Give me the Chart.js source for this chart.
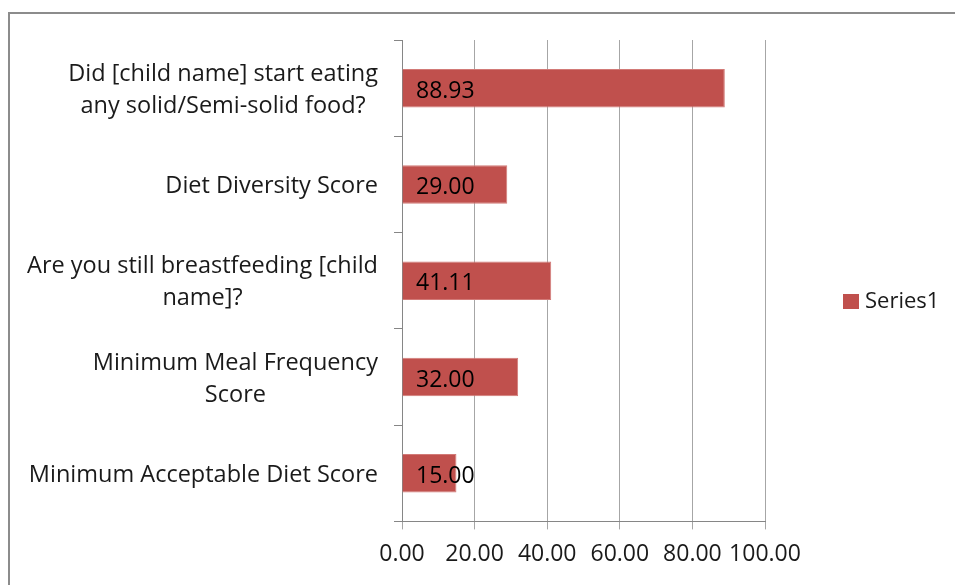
<!DOCTYPE html>
<html>
<head>
<meta charset="utf-8">
<script src="https://cdn.jsdelivr.net/npm/chart.js@4"></script>
<style>
  html, body { margin: 0; padding: 0; background: #fff; overflow: hidden; }
  #frame { position: absolute; left: 8px; top: 12px; width: 1100px; height: 700px; border: 2px solid #8c8c8c; }
  #wrap { position: absolute; left: 10px; top: 14px; width: 945px; height: 571px; }
</style>
</head>
<body>
<div id="frame"></div>
<div id="wrap"><canvas id="chart1"></canvas></div>
<script>
// categories (wrapped like the original)
var categories = [
  ['Did [child name] start eating', 'any solid/Semi-solid food?'],
  ['Diet Diversity Score'],
  ['Are you still breastfeeding [child', 'name]?'],
  ['Minimum Meal Frequency', 'Score'],
  ['Minimum Acceptable Diet Score']
];
var series1 = [88.93, 29.00, 41.11, 32.00, 15.00];
var xTicks = [0, 20, 40, 60, 80, 100];

var FONT = "'Open Sans', sans-serif";

// value labels at inside base of each bar
var insideBase = {
  id: 'insideBase',
  afterDatasetsDraw: function (chart) {
    var ctx = chart.ctx;
    var x0 = chart.scales.x.getPixelForValue(0);
    ctx.save();
    ctx.font = '23px ' + FONT;
    ctx.fillStyle = '#000';
    ctx.textAlign = 'left';
    ctx.textBaseline = 'middle';
    chart.getDatasetMeta(0).data.forEach(function (bar, i) {
      ctx.fillText(series1[i].toFixed(2), x0 + 14, bar.y + 3);
    });
    ctx.restore();
  }
};

// category labels: block right aligned, lines centred on each other (like Excel)
var catLabels = {
  id: 'catLabels',
  afterDraw: function (chart) {
    var ctx = chart.ctx;
    var y = chart.scales.y;
    var right = y.right - 8 - 16;
    var lh = 32;
    ctx.save();
    ctx.font = '23.5px ' + FONT;
    ctx.fillStyle = '#1a1a1a';
    ctx.textAlign = 'center';
    ctx.textBaseline = 'middle';
    categories.forEach(function (lines, i) {
      var w = 0;
      lines.forEach(function (t) { w = Math.max(w, ctx.measureText(t).width); });
      var cx = right - w / 2;
      var cy = y.getPixelForValue(i) + 2 - (lines.length - 1) * lh / 2;
      lines.forEach(function (t, k) { ctx.fillText(t, cx, cy + k * lh); });
    });
    ctx.restore();
  }
};

// legend on the right, drawn by hand so the layout stays put
var sideLegend = {
  id: 'sideLegend',
  afterDraw: function (chart) {
    var ctx = chart.ctx;
    var ds = chart.data.datasets[0];
    var x = chart.chartArea.right + 78;
    var y = 288;
    ctx.save();
    ctx.fillStyle = ds.backgroundColor;
    ctx.fillRect(x, y - 8, 16, 15);
    ctx.font = '22px ' + FONT;
    ctx.fillStyle = '#1a1a1a';
    ctx.textAlign = 'left';
    ctx.textBaseline = 'middle';
    ctx.fillText(ds.label, x + 22, y);
    ctx.restore();
  }
};

const data = {
  labels: categories,
  datasets: [{
    label: 'Series1',
    data: series1,
    backgroundColor: '#C0504D',
    borderColor: '#d27a77',
    borderWidth: 1,
    categoryPercentage: 1,
    barPercentage: 0.4
  }]
};

const config = {
  type: 'bar',
  data: data,
  options: {
    indexAxis: 'y',
    responsive: true,
    maintainAspectRatio: false,
    animation: false,
    layout: { padding: { left: 0, top: 26, right: 190, bottom: 6 } },
    scales: {
      x: {
        min: 0,
        max: 100,
        afterBuildTicks: function (axis) {
          axis.ticks = xTicks.map(function (v) { return { value: v }; });
        },
        grid: { color: '#a6a6a6', lineWidth: 1, tickLength: 8, drawTicks: true },
        border: { color: '#868686' },
        ticks: {
          autoSkip: false,
          color: '#1a1a1a',
          font: { family: FONT, size: 23 },
          padding: 11,
          maxRotation: 0,
          callback: function (v) { return Number(v).toFixed(2); }
        }
      },
      y: {
        afterFit: function (scale) {
          scale.width = 392;
          scale.paddingTop = 0;
          scale.paddingBottom = 0;
        },
        grid: { drawOnChartArea: false, drawTicks: true, tickLength: 8, color: '#868686', offset: true },
        border: { color: '#868686' },
        ticks: {
          color: 'rgba(0,0,0,0)',
          font: { family: FONT, size: 23, lineHeight: 1.4 },
          padding: 16
        }
      }
    },
    plugins: {
      legend: { display: false },
      tooltip: { enabled: false }
    }
  },
  plugins: [insideBase, catLabels, sideLegend]
};

const myChart = new Chart(document.getElementById('chart1'), config);
</script>
</body>
</html>
